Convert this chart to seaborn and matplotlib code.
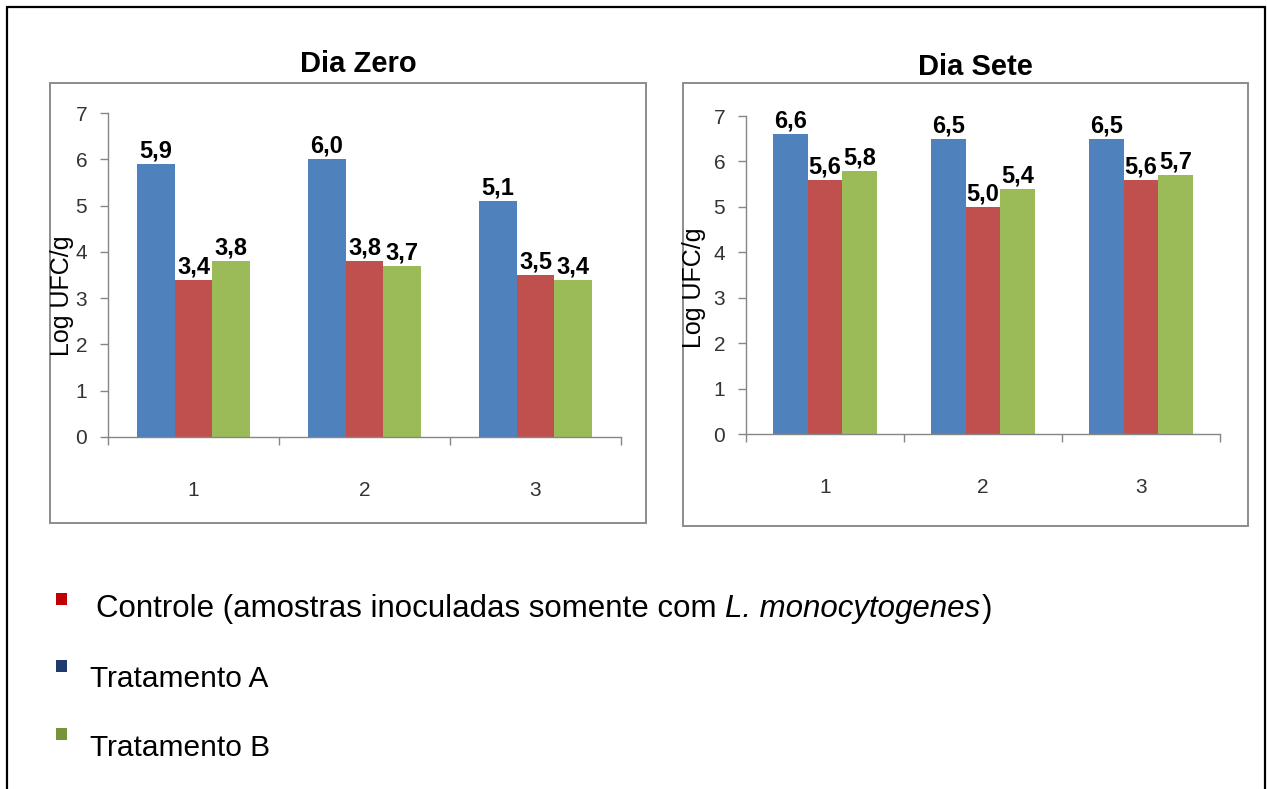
import pandas as pd
import matplotlib
matplotlib.use('Agg')
import matplotlib.pyplot as plt
from matplotlib.patches import Rectangle
from matplotlib.lines import Line2D
import seaborn as sns

# dados
amostras = [1, 2, 3]
grupos = ['Tratamento A', 'Controle', 'Tratamento B']
dia_zero = {
    'Tratamento A': [5.9, 6.0, 5.1],
    'Controle': [3.4, 3.8, 3.5],
    'Tratamento B': [3.8, 3.7, 3.4],
}
dia_sete = {
    'Tratamento A': [6.6, 6.5, 6.5],
    'Controle': [5.6, 5.0, 5.6],
    'Tratamento B': [5.8, 5.4, 5.7],
}
titulos = ['Dia Zero', 'Dia Sete']
ylabel = 'Log UFC/g'
cores_barras = ['#4F81BD', '#C0504D', '#9BBB59']

legenda_textos = ['Controle (amostras inoculadas somente com ', 'L. monocytogenes', ')',
                  'Tratamento A', 'Tratamento B']
legenda_cores = ['#C00000', '#1F3A6E', '#77933C']

W, H = 1267, 789


def px_rect(x0, y0, x1, y1):
    # converte pixels (origem no topo) para fracao da figura
    return [x0 / W, 1 - y1 / H, (x1 - x0) / W, (y1 - y0) / H]


def para_df(dados):
    linhas = []
    for g in grupos:
        for a, v in zip(amostras, dados[g]):
            linhas.append({'amostra': a, 'grupo': g, 'valor': v})
    return pd.DataFrame(linhas)


sns.set_style('white')
plt.rcParams['font.family'] = ['Liberation Sans', 'DejaVu Sans']
plt.rcParams['text.color'] = 'black'

fig = plt.figure(figsize=(W / 100, H / 100), dpi=100)

# borda externa (esquerda, topo, direita)
fig.add_artist(Line2D([7 / W, 7 / W], [0, 1 - 7 / H], transform=fig.transFigure, color='black', lw=1.6))
fig.add_artist(Line2D([7 / W, 1265 / W], [1 - 7 / H, 1 - 7 / H], transform=fig.transFigure, color='black', lw=1.6))
fig.add_artist(Line2D([1265 / W, 1265 / W], [0, 1 - 7 / H], transform=fig.transFigure, color='black', lw=1.6))

paineis = [
    {'dados': dia_zero, 'box': (50, 83, 646, 523), 'ax': (108, 113, 621, 437),
     'titulo_xy': (358, 64), 'ylabel_xy': (62, 296)},
    {'dados': dia_sete, 'box': (683, 83, 1248, 526), 'ax': (746, 116, 1220, 434),
     'titulo_xy': (975, 67), 'ylabel_xy': (694, 288)},
]

for painel, titulo in zip(paineis, titulos):
    bx = painel['box']
    fig.add_artist(Rectangle((bx[0] / W, 1 - bx[3] / H), (bx[2] - bx[0]) / W, (bx[3] - bx[1]) / H,
                             transform=fig.transFigure, fill=False, ec='#8C8C8C', lw=1.4))

    ax = fig.add_axes(px_rect(*painel['ax']))
    df = para_df(painel['dados'])
    sns.barplot(data=df, x='amostra', y='valor', hue='grupo', hue_order=grupos,
                palette=cores_barras, saturation=1, width=0.66, linewidth=0,
                legend=False, ax=ax)

    for c in ax.containers:
        labels = [f'{v:.1f}'.replace('.', ',') for v in c.datavalues]
        ax.bar_label(c, labels=labels, padding=1, fontsize=17, fontweight='bold', color='black')

    ax.set_ylim(0, 7)
    ax.set_xlim(-0.5, 2.5)
    ax.set_yticks(range(0, 8))
    ax.set_xlabel('')
    ax.set_ylabel('')
    sns.despine(ax=ax)
    for s in ['left', 'bottom']:
        ax.spines[s].set_color('#868686')
        ax.spines[s].set_linewidth(1)
    ax.tick_params(axis='y', direction='out', length=6, width=1, color='#868686',
                   labelsize=15, labelcolor='#333333', pad=9, left=True)
    ax.tick_params(axis='x', which='major', length=0, labelsize=15, labelcolor='#333333', pad=32)
    ax.set_xticks([-0.5, 0.5, 1.5, 2.5], minor=True)
    ax.tick_params(axis='x', which='minor', direction='out', length=6, width=1, color='#868686', bottom=True)

    tx, ty = painel['titulo_xy']
    fig.text(tx / W, 1 - ty / H, titulo, ha='center', va='center', fontsize=21, fontweight='bold')
    lx, ly = painel['ylabel_xy']
    fig.text(lx / W, 1 - ly / H, ylabel, ha='center', va='center', rotation=90, fontsize=18)

# legenda manual
marcadores_y = [(593, 605), (660, 672), (728, 740)]
for cor, (y0, y1) in zip(legenda_cores, marcadores_y):
    fig.add_artist(Rectangle((56 / W, 1 - y1 / H), 11 / W, (y1 - y0) / H,
                             transform=fig.transFigure, color=cor, lw=0))

t1 = fig.text(96 / W, 1 - 617 / H, legenda_textos[0], va='baseline', fontsize=22.5)
t2 = plt.annotate(legenda_textos[1], xy=(1, 1 - 617 / H), xycoords=(t1, 'figure fraction'),
                  va='baseline', fontsize=22.5, style='italic', annotation_clip=False)
plt.annotate(legenda_textos[2], xy=(1, 1 - 617 / H), xycoords=(t2, 'figure fraction'),
             xytext=(1, 0), textcoords='offset points', va='baseline',
             fontsize=22.5, annotation_clip=False)
fig.text(90 / W, 1 - 687 / H, legenda_textos[3], va='baseline', fontsize=21.5)
fig.text(90 / W, 1 - 756 / H, legenda_textos[4], va='baseline', fontsize=21.5)

plt.savefig('out.png', dpi=100)
